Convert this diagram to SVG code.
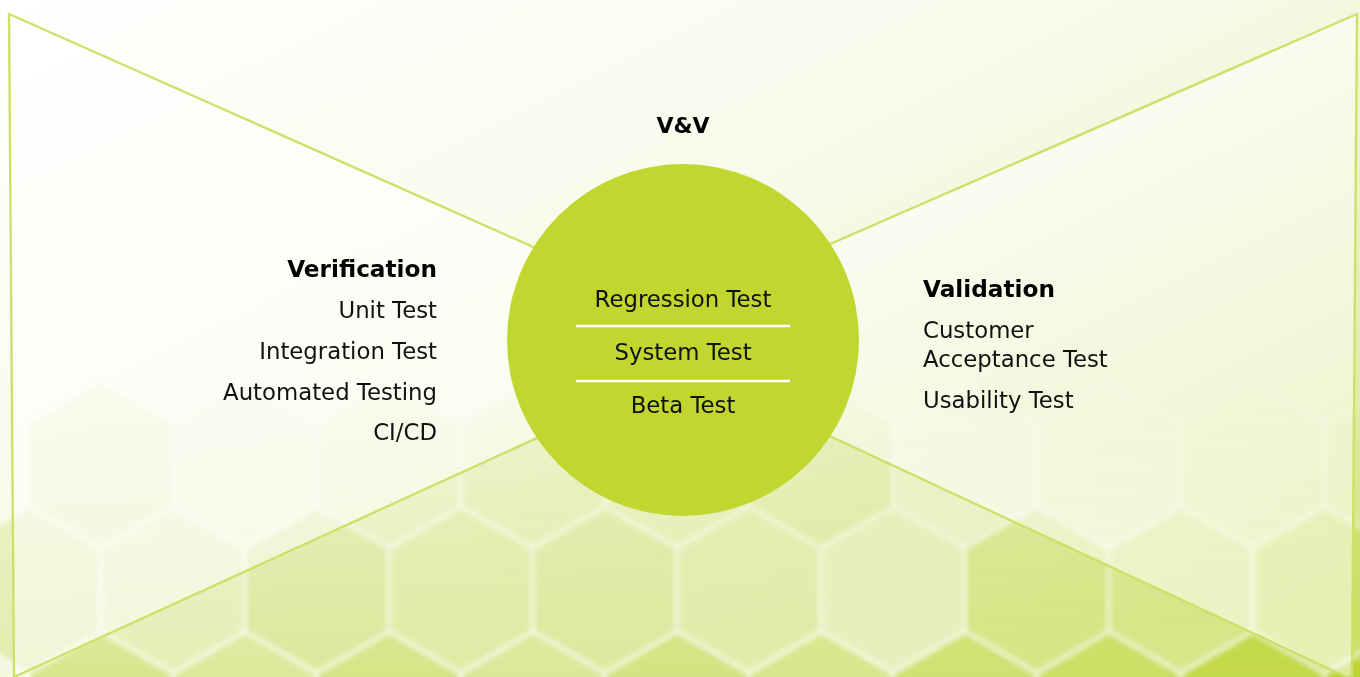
<svg xmlns="http://www.w3.org/2000/svg" xmlns:xlink="http://www.w3.org/1999/xlink" width="1360" height="677" viewBox="0 0 1360 677">
<defs>
<style>
.t{font-family:"DejaVu Sans","Liberation Sans",sans-serif;font-size:22.8px;fill:#111;}
.b{font-family:"DejaVu Sans","Liberation Sans",sans-serif;font-weight:700;fill:#000;}
.tri{stroke:#CFE06A;stroke-width:2.4;fill:#ffffff;fill-opacity:0.5;stroke-linejoin:miter;}
.hx{stroke:#ffffff;stroke-opacity:0.5;stroke-width:4;}
.sep{stroke:#ffffff;stroke-width:2.5;}
</style>
<linearGradient id="bg" x1="0" y1="0" x2="1" y2="1">
<stop offset="0" stop-color="#ffffff"/>
<stop offset="0.45" stop-color="#F7FAE8"/>
<stop offset="0.8" stop-color="#E2EBA8"/>
<stop offset="1" stop-color="#BFD63A"/>
</linearGradient>
<linearGradient id="fade" x1="0" y1="0" x2="0" y2="1">
<stop offset="0" stop-color="#fff" stop-opacity="0"/>
<stop offset="0.55" stop-color="#fff" stop-opacity="0.3"/>
<stop offset="1" stop-color="#fff" stop-opacity="1"/>
</linearGradient>
<mask id="m"><rect width="1360" height="677" fill="url(#fade)"/></mask>
<filter id="soft" x="-5%" y="-5%" width="110%" height="110%"><feGaussianBlur stdDeviation="2.5"/></filter>
<polygon id="hx" points="0,-83 72,-41.5 72,41.5 0,83 -72,41.5 -72,-41.5"/>
</defs>
<rect width="1360" height="677" fill="url(#bg)"/>
<g id="hexes" mask="url(#m)" filter="url(#soft)">
<use xlink:href="#hx" class="hx" x="101" y="465" fill="#E4ECB4"/>
<use xlink:href="#hx" class="hx" x="245" y="465" fill="#EEF3CC"/>
<use xlink:href="#hx" class="hx" x="389" y="465" fill="#E8EFBC"/>
<use xlink:href="#hx" class="hx" x="533" y="465" fill="#E4ECB0"/>
<use xlink:href="#hx" class="hx" x="677" y="465" fill="#E6EDB4"/>
<use xlink:href="#hx" class="hx" x="821" y="465" fill="#E0EAA6"/>
<use xlink:href="#hx" class="hx" x="965" y="465" fill="#EEF3D0"/>
<use xlink:href="#hx" class="hx" x="1109" y="465" fill="#E8EFBE"/>
<use xlink:href="#hx" class="hx" x="1253" y="465" fill="#E2EBAA"/>
<use xlink:href="#hx" class="hx" x="1397" y="465" fill="#DDE89C"/>
<use xlink:href="#hx" class="hx" x="29" y="590" fill="#E2EBAC"/>
<use xlink:href="#hx" class="hx" x="173" y="590" fill="#E6EDB6"/>
<use xlink:href="#hx" class="hx" x="317" y="590" fill="#DCE79C"/>
<use xlink:href="#hx" class="hx" x="461" y="590" fill="#E0EAA4"/>
<use xlink:href="#hx" class="hx" x="605" y="590" fill="#DDE89E"/>
<use xlink:href="#hx" class="hx" x="749" y="590" fill="#E2EBAA"/>
<use xlink:href="#hx" class="hx" x="893" y="590" fill="#E8EEC0"/>
<use xlink:href="#hx" class="hx" x="1037" y="590" fill="#D6E586"/>
<use xlink:href="#hx" class="hx" x="1181" y="590" fill="#D8E68C"/>
<use xlink:href="#hx" class="hx" x="1325" y="590" fill="#CFE06C"/>
<use xlink:href="#hx" class="hx" x="101" y="715" fill="#D8E68E"/>
<use xlink:href="#hx" class="hx" x="245" y="715" fill="#DDE89C"/>
<use xlink:href="#hx" class="hx" x="389" y="715" fill="#D6E588"/>
<use xlink:href="#hx" class="hx" x="533" y="715" fill="#DCE79A"/>
<use xlink:href="#hx" class="hx" x="677" y="715" fill="#D4E382"/>
<use xlink:href="#hx" class="hx" x="821" y="715" fill="#D8E68C"/>
<use xlink:href="#hx" class="hx" x="965" y="715" fill="#D0E172"/>
<use xlink:href="#hx" class="hx" x="1109" y="715" fill="#CCDF66"/>
<use xlink:href="#hx" class="hx" x="1253" y="715" fill="#C4D94A"/>
<use xlink:href="#hx" class="hx" x="1397" y="715" fill="#BDD535"/>
</g>
<g id="connectors">
<polygon id="left-triangle" class="tri" points="9,14 747,342 14,677"/>
<polygon id="right-triangle" class="tri" points="1357,14 617,337 1347,677 1352,677"/>
</g>
<g id="vv">
<text class="b" x="683" y="133" font-size="22" text-anchor="middle">V&amp;V</text>
</g>
<g id="center-circle">
<circle cx="683" cy="340" r="176" fill="#C0D72F"/>
<text class="t" x="683" y="307" text-anchor="middle">Regression Test</text>
<line class="sep" x1="576" y1="326" x2="790" y2="326"/>
<text class="t" x="683" y="360" text-anchor="middle">System Test</text>
<line class="sep" x1="576" y1="381" x2="790" y2="381"/>
<text class="t" x="683" y="413" text-anchor="middle">Beta Test</text>
</g>
<g id="verification">
<text class="b" x="437" y="277" font-size="23.2" text-anchor="end">Verification</text>
<text class="t" x="437" y="318" text-anchor="end">Unit Test</text>
<text class="t" x="437" y="359" text-anchor="end">Integration Test</text>
<text class="t" x="437" y="400" text-anchor="end">Automated Testing</text>
<text class="t" x="437" y="440" text-anchor="end">CI/CD</text>
</g>
<g id="validation">
<text class="b" x="923" y="297" font-size="23.2">Validation</text>
<text class="t" x="923" y="338">Customer</text>
<text class="t" x="923" y="367">Acceptance Test</text>
<text class="t" x="923" y="408">Usability Test</text>
</g>
</svg>
